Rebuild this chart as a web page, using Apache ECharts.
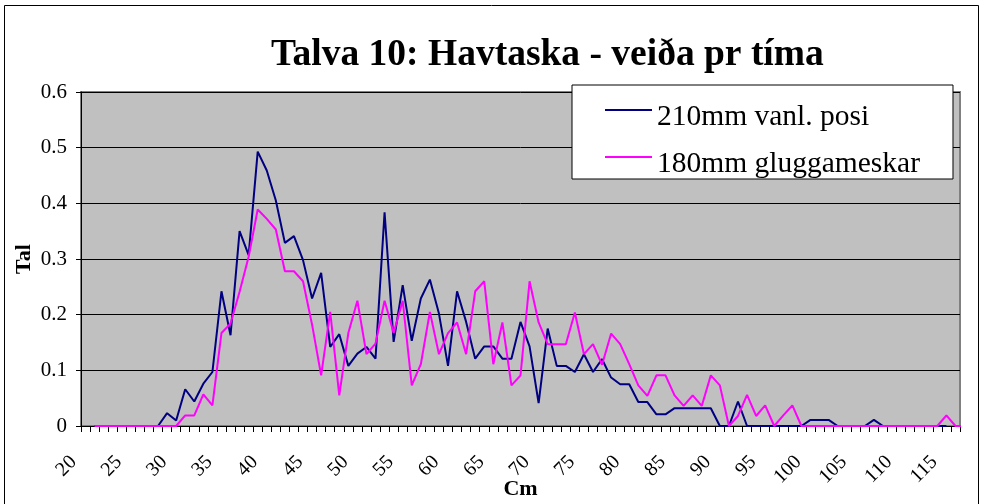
<!DOCTYPE html>
<html>
<head>
<meta charset="utf-8">
<script src="https://cdn.jsdelivr.net/npm/echarts@6/dist/echarts.min.js"></script>
<style>
  html, body { margin: 0; padding: 0; background: #fff; }
  #chart { width: 982px; height: 504px; }
</style>
</head>
<body>
<div id="chart"></div>
<script>
// lengdir 20..116 cm
var lengths = [];
for (var c = 20; c <= 116; c++) lengths.push(String(c));

var yTicks = [0, 0.1, 0.2, 0.3, 0.4, 0.5, 0.6];

// 210mm vanl. posi (21..115)
var posi = [null,
  0, 0, 0, 0, 0, 0, 0, 0,
  0.023, 0.010, 0.066, 0.044, 0.076, 0.097, 0.242, 0.163, 0.350, 0.307,
  0.493, 0.459, 0.405, 0.329, 0.341, 0.298, 0.229, 0.275, 0.142, 0.165,
  0.108, 0.130, 0.142, 0.121, 0.384, 0.151, 0.253, 0.153, 0.229, 0.263,
  0.202, 0.108, 0.242, 0.187, 0.121, 0.143, 0.143, 0.121, 0.121, 0.187,
  0.143, 0.041, 0.175, 0.108, 0.108, 0.097, 0.129, 0.097, 0.120, 0.087,
  0.075, 0.075, 0.043, 0.043, 0.021, 0.021, 0.032, 0.032, 0.032, 0.032,
  0.032, 0, 0, 0.044, 0, 0, 0, 0, 0, 0,
  0, 0.011, 0.011, 0.011, 0, 0, 0, 0, 0.011, 0,
  0, 0, 0, 0, 0, 0, 0, null];

// 180mm gluggameskar (21..116)
var glugga = [null,
  0, 0, 0, 0, 0, 0, 0, 0, 0, 0,
  0.019, 0.019, 0.057, 0.037, 0.167, 0.184, 0.241, 0.304, 0.389, 0.372,
  0.353, 0.278, 0.278, 0.260, 0.182, 0.091, 0.205, 0.055, 0.167, 0.225,
  0.129, 0.148, 0.225, 0.167, 0.225, 0.073, 0.111, 0.205, 0.129, 0.167,
  0.186, 0.129, 0.242, 0.260, 0.111, 0.186, 0.073, 0.091, 0.260, 0.186,
  0.147, 0.147, 0.147, 0.204, 0.129, 0.147, 0.110, 0.166, 0.147, 0.111,
  0.073, 0.054, 0.091, 0.091, 0.055, 0.036, 0.055, 0.036, 0.091, 0.073,
  0, 0.018, 0.056, 0.018, 0.037, 0, 0.019, 0.037, 0, 0,
  0, 0, 0, 0, 0, 0, 0, 0, 0, 0,
  0, 0, 0, 0, 0.019, 0, 0];

var serif = "'Liberation Serif', 'Times New Roman', serif";
// line sample sits above the text middle, like the original legend
var legendIcon = 'path://M0,0 H47 V2 H0 Z M0,15.9 H0.01 V16 H0 Z';

var myChart = echarts.init(document.getElementById('chart'));
var option = {
    backgroundColor: '#fff',
    animation: false,
    title: {
        text: 'Talva 10: Havtaska - veiða pr tíma',
        left: 271,
        top: 36,
        padding: 0,
        textStyle: { fontFamily: serif, fontSize: 37.5, fontWeight: 'bold', color: '#000' }
    },
    legend: {
        orient: 'vertical',
        left: 572,
        top: 85,
        padding: [17, 33, 0, 33],
        itemGap: 17,
        itemWidth: 47,
        itemHeight: 16,
        backgroundColor: '#fff',
        borderColor: '#000',
        borderWidth: 1,
        borderRadius: 0,
        textStyle: { fontFamily: serif, fontSize: 29.5, color: '#000', lineHeight: 30 },
        data: [
            { name: '210mm vanl. posi', icon: legendIcon },
            { name: '180mm gluggameskar', icon: legendIcon }
        ]
    },
    graphic: [{
        type: 'rect',
        shape: { x: 4.5, y: 5.5, width: 974, height: 510 },
        style: { fill: 'none', stroke: '#000', lineWidth: 1 },
        silent: true
    }],
    grid: {
        left: 81, right: 22, top: 92, bottom: 78,
        outerBoundsMode: 'none',
        containLabel: false,
        show: true,
        backgroundColor: '#c0c0c0',
        borderColor: '#808080',
        borderWidth: 2
    },
    xAxis: {
        type: 'category',
        data: lengths,
        boundaryGap: true,
        name: 'Cm',
        nameLocation: 'middle',
        nameGap: 52,
        nameMoveOverlap: false,
        nameTextStyle: { fontFamily: serif, fontSize: 22, fontWeight: 'bold', color: '#000' },
        axisLine: { lineStyle: { color: '#000', width: 1 } },
        axisTick: { show: true, interval: 0, length: 6, lineStyle: { color: '#000' } },
        axisLabel: {
            interval: 4,
            rotate: 45,
            margin: 21,
            padding: [0, 17, 0, 0],
            fontFamily: serif,
            fontSize: 20,
            color: '#000'
        },
        splitLine: { show: false }
    },
    yAxis: {
        type: 'value',
        min: yTicks[0],
        max: yTicks[yTicks.length - 1],
        interval: 0.1,
        name: 'Tal',
        nameLocation: 'middle',
        nameRotate: 90,
        nameGap: 46,
        nameMoveOverlap: false,
        nameTextStyle: { fontFamily: serif, fontSize: 22, fontWeight: 'bold', color: '#000' },
        axisLine: { show: true, lineStyle: { color: '#000', width: 1 } },
        axisTick: { show: true, length: 5, lineStyle: { color: '#000' } },
        axisLabel: { margin: 14, fontFamily: serif, fontSize: 21, color: '#000' },
        splitLine: { show: true, lineStyle: { color: '#000', width: 1 } }
    },
    series: [
        {
            name: '210mm vanl. posi',
            type: 'line',
            data: posi,
            symbol: 'none',
            lineStyle: { color: '#000080', width: 2 },
            itemStyle: { color: '#000080' }
        },
        {
            name: '180mm gluggameskar',
            type: 'line',
            data: glugga,
            symbol: 'none',
            lineStyle: { color: '#ff00ff', width: 2 },
            itemStyle: { color: '#ff00ff' }
        }
    ]
};
myChart.setOption(option);
</script>
</body>
</html>
